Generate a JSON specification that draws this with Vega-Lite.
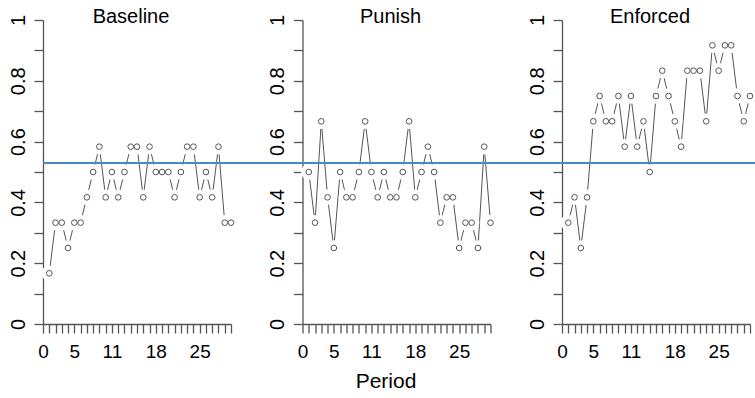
{
  "$schema": "https://vega.github.io/schema/vega-lite/v6.json",
  "background": "white",
  "padding": {"left": 7, "top": 7, "right": 0, "bottom": 0},
  "bounds": "flush",
  "spacing": 71.5,
  "config": {
    "view": {"stroke": null},
    "font": "Liberation Sans",
    "axis": {
      "grid": false,
      "domainColor": "#555555",
      "domainWidth": 1.3,
      "tickColor": "#555555",
      "tickWidth": 1.3,
      "tickSize": 9,
      "labelColor": "#000000",
      "labelFont": "Liberation Sans",
      "labelOverlap": false,
      "labelBound": false,
      "labelFlush": false
    }
  },
  "datasets": {
    "rates": [
      {"condition": "Baseline", "period": 1, "share": 0.1667},
      {"condition": "Baseline", "period": 2, "share": 0.3333},
      {"condition": "Baseline", "period": 3, "share": 0.3333},
      {"condition": "Baseline", "period": 4, "share": 0.25},
      {"condition": "Baseline", "period": 5, "share": 0.3333},
      {"condition": "Baseline", "period": 6, "share": 0.3333},
      {"condition": "Baseline", "period": 7, "share": 0.4167},
      {"condition": "Baseline", "period": 8, "share": 0.5},
      {"condition": "Baseline", "period": 9, "share": 0.5833},
      {"condition": "Baseline", "period": 10, "share": 0.4167},
      {"condition": "Baseline", "period": 11, "share": 0.5},
      {"condition": "Baseline", "period": 12, "share": 0.4167},
      {"condition": "Baseline", "period": 13, "share": 0.5},
      {"condition": "Baseline", "period": 14, "share": 0.5833},
      {"condition": "Baseline", "period": 15, "share": 0.5833},
      {"condition": "Baseline", "period": 16, "share": 0.4167},
      {"condition": "Baseline", "period": 17, "share": 0.5833},
      {"condition": "Baseline", "period": 18, "share": 0.5},
      {"condition": "Baseline", "period": 19, "share": 0.5},
      {"condition": "Baseline", "period": 20, "share": 0.5},
      {"condition": "Baseline", "period": 21, "share": 0.4167},
      {"condition": "Baseline", "period": 22, "share": 0.5},
      {"condition": "Baseline", "period": 23, "share": 0.5833},
      {"condition": "Baseline", "period": 24, "share": 0.5833},
      {"condition": "Baseline", "period": 25, "share": 0.4167},
      {"condition": "Baseline", "period": 26, "share": 0.5},
      {"condition": "Baseline", "period": 27, "share": 0.4167},
      {"condition": "Baseline", "period": 28, "share": 0.5833},
      {"condition": "Baseline", "period": 29, "share": 0.3333},
      {"condition": "Baseline", "period": 30, "share": 0.3333},
      {"condition": "Punish", "period": 1, "share": 0.5},
      {"condition": "Punish", "period": 2, "share": 0.3333},
      {"condition": "Punish", "period": 3, "share": 0.6667},
      {"condition": "Punish", "period": 4, "share": 0.4167},
      {"condition": "Punish", "period": 5, "share": 0.25},
      {"condition": "Punish", "period": 6, "share": 0.5},
      {"condition": "Punish", "period": 7, "share": 0.4167},
      {"condition": "Punish", "period": 8, "share": 0.4167},
      {"condition": "Punish", "period": 9, "share": 0.5},
      {"condition": "Punish", "period": 10, "share": 0.6667},
      {"condition": "Punish", "period": 11, "share": 0.5},
      {"condition": "Punish", "period": 12, "share": 0.4167},
      {"condition": "Punish", "period": 13, "share": 0.5},
      {"condition": "Punish", "period": 14, "share": 0.4167},
      {"condition": "Punish", "period": 15, "share": 0.4167},
      {"condition": "Punish", "period": 16, "share": 0.5},
      {"condition": "Punish", "period": 17, "share": 0.6667},
      {"condition": "Punish", "period": 18, "share": 0.4167},
      {"condition": "Punish", "period": 19, "share": 0.5},
      {"condition": "Punish", "period": 20, "share": 0.5833},
      {"condition": "Punish", "period": 21, "share": 0.5},
      {"condition": "Punish", "period": 22, "share": 0.3333},
      {"condition": "Punish", "period": 23, "share": 0.4167},
      {"condition": "Punish", "period": 24, "share": 0.4167},
      {"condition": "Punish", "period": 25, "share": 0.25},
      {"condition": "Punish", "period": 26, "share": 0.3333},
      {"condition": "Punish", "period": 27, "share": 0.3333},
      {"condition": "Punish", "period": 28, "share": 0.25},
      {"condition": "Punish", "period": 29, "share": 0.5833},
      {"condition": "Punish", "period": 30, "share": 0.3333},
      {"condition": "Enforced", "period": 1, "share": 0.3333},
      {"condition": "Enforced", "period": 2, "share": 0.4167},
      {"condition": "Enforced", "period": 3, "share": 0.25},
      {"condition": "Enforced", "period": 4, "share": 0.4167},
      {"condition": "Enforced", "period": 5, "share": 0.6667},
      {"condition": "Enforced", "period": 6, "share": 0.75},
      {"condition": "Enforced", "period": 7, "share": 0.6667},
      {"condition": "Enforced", "period": 8, "share": 0.6667},
      {"condition": "Enforced", "period": 9, "share": 0.75},
      {"condition": "Enforced", "period": 10, "share": 0.5833},
      {"condition": "Enforced", "period": 11, "share": 0.75},
      {"condition": "Enforced", "period": 12, "share": 0.5833},
      {"condition": "Enforced", "period": 13, "share": 0.6667},
      {"condition": "Enforced", "period": 14, "share": 0.5},
      {"condition": "Enforced", "period": 15, "share": 0.75},
      {"condition": "Enforced", "period": 16, "share": 0.8333},
      {"condition": "Enforced", "period": 17, "share": 0.75},
      {"condition": "Enforced", "period": 18, "share": 0.6667},
      {"condition": "Enforced", "period": 19, "share": 0.5833},
      {"condition": "Enforced", "period": 20, "share": 0.8333},
      {"condition": "Enforced", "period": 21, "share": 0.8333},
      {"condition": "Enforced", "period": 22, "share": 0.8333},
      {"condition": "Enforced", "period": 23, "share": 0.6667},
      {"condition": "Enforced", "period": 24, "share": 0.9167},
      {"condition": "Enforced", "period": 25, "share": 0.8333},
      {"condition": "Enforced", "period": 26, "share": 0.9167},
      {"condition": "Enforced", "period": 27, "share": 0.9167},
      {"condition": "Enforced", "period": 28, "share": 0.75},
      {"condition": "Enforced", "period": 29, "share": 0.6667},
      {"condition": "Enforced", "period": 30, "share": 0.75}
    ],
    "threshold": [{"level": 0.53}]
  },
  "hconcat": [
    {
      "width": 188, "height": 304,
      "title": {"text": "Baseline", "frame": "group", "offset": -13, "dx": -6, "fontSize": 20, "fontWeight": "normal", "font": "Liberation Sans"},
      "resolve": {"axis": {"x": "independent", "y": "independent"}},
      "layer": [
        {
          "data": {"name": "rates"},
          "transform": [{"filter": "datum.condition === 'Baseline'"}],
          "layer": [
            {"mark": {"type": "line", "color": "#555555", "strokeWidth": 1}},
            {"mark": {"type": "point", "shape": "circle", "filled": true, "color": "white", "opacity": 1, "size": 240}},
            {"mark": {"type": "point", "shape": "circle", "filled": false, "fill": "white", "stroke": "#555555", "strokeWidth": 1, "opacity": 1, "size": 32}}
          ],
          "encoding": {
            "x": {"field": "period", "type": "quantitative", "scale": {"domain": [0, 30], "nice": false, "zero": false},
                  "axis": {"title": null, "values": [0,1,2,3,4,5,6,7,8,9,10,11,12,13,14,15,16,17,18,19,20,21,22,23,24,25,26,27,28,29,30], "labelExpr": "indexof([0,5,11,18,25], datum.value) >= 0 ? datum.label : ''", "labelFontSize": 19, "labelPadding": 9}},
            "y": {"field": "share", "type": "quantitative", "scale": {"domain": [0, 1], "nice": false},
                  "axis": {"title": null, "values": [0,0.1,0.2,0.3,0.4,0.5,0.6,0.7,0.8,0.9,1], "format": ".1~f", "labelExpr": "indexof([0,0.2,0.4,0.6,0.8,1], datum.value) >= 0 ? datum.label : ''", "labelAngle": -90, "labelFontSize": 20, "labelPadding": 6}}
          }
        },
        {
          "data": {"name": "threshold"},
          "mark": {"type": "rule", "color": "#4a86d0", "strokeWidth": 2},
          "encoding": {
            "x": {"datum": 0, "type": "quantitative", "scale": {"domain": [0, 30]}, "axis": null},
            "x2": {"datum": 41.5},
            "y": {"field": "level", "type": "quantitative", "scale": {"domain": [0, 1]}, "axis": null}
          }
        }
      ]
    },
    {
      "width": 188, "height": 304,
      "title": {"text": "Punish", "frame": "group", "offset": -13, "dx": -6, "fontSize": 20, "fontWeight": "normal", "font": "Liberation Sans"},
      "resolve": {"axis": {"x": "independent", "y": "independent"}},
      "layer": [
        {
          "data": {"name": "rates"},
          "transform": [{"filter": "datum.condition === 'Punish'"}],
          "layer": [
            {"mark": {"type": "line", "color": "#555555", "strokeWidth": 1}},
            {"mark": {"type": "point", "shape": "circle", "filled": true, "color": "white", "opacity": 1, "size": 240}},
            {"mark": {"type": "point", "shape": "circle", "filled": false, "fill": "white", "stroke": "#555555", "strokeWidth": 1, "opacity": 1, "size": 32}}
          ],
          "encoding": {
            "x": {"field": "period", "type": "quantitative", "scale": {"domain": [0, 30], "nice": false, "zero": false},
                  "axis": {"title": "Period", "titleFontSize": 21, "titleFontWeight": "normal", "titleColor": "#000000", "titlePadding": 9, "titleFont": "Liberation Sans", "titleX": 83, "values": [0,1,2,3,4,5,6,7,8,9,10,11,12,13,14,15,16,17,18,19,20,21,22,23,24,25,26,27,28,29,30], "labelExpr": "indexof([0,5,11,18,25], datum.value) >= 0 ? datum.label : ''", "labelFontSize": 19, "labelPadding": 9}},
            "y": {"field": "share", "type": "quantitative", "scale": {"domain": [0, 1], "nice": false},
                  "axis": {"title": null, "values": [0,0.1,0.2,0.3,0.4,0.5,0.6,0.7,0.8,0.9,1], "format": ".1~f", "labelExpr": "indexof([0,0.2,0.4,0.6,0.8,1], datum.value) >= 0 ? datum.label : ''", "labelAngle": -90, "labelFontSize": 20, "labelPadding": 6}}
          }
        },
        {
          "data": {"name": "threshold"},
          "mark": {"type": "rule", "color": "#4a86d0", "strokeWidth": 2},
          "encoding": {
            "x": {"datum": -11.5, "type": "quantitative", "scale": {"domain": [0, 30]}, "axis": null},
            "x2": {"datum": 41.5},
            "y": {"field": "level", "type": "quantitative", "scale": {"domain": [0, 1]}, "axis": null}
          }
        }
      ]
    },
    {
      "width": 188, "height": 304,
      "title": {"text": "Enforced", "frame": "group", "offset": -13, "dx": -6, "fontSize": 20, "fontWeight": "normal", "font": "Liberation Sans"},
      "resolve": {"axis": {"x": "independent", "y": "independent"}},
      "layer": [
        {
          "data": {"name": "rates"},
          "transform": [{"filter": "datum.condition === 'Enforced'"}],
          "layer": [
            {"mark": {"type": "line", "color": "#555555", "strokeWidth": 1}},
            {"mark": {"type": "point", "shape": "circle", "filled": true, "color": "white", "opacity": 1, "size": 240}},
            {"mark": {"type": "point", "shape": "circle", "filled": false, "fill": "white", "stroke": "#555555", "strokeWidth": 1, "opacity": 1, "size": 32}}
          ],
          "encoding": {
            "x": {"field": "period", "type": "quantitative", "scale": {"domain": [0, 30], "nice": false, "zero": false},
                  "axis": {"title": null, "values": [0,1,2,3,4,5,6,7,8,9,10,11,12,13,14,15,16,17,18,19,20,21,22,23,24,25,26,27,28,29,30], "labelExpr": "indexof([0,5,11,18,25], datum.value) >= 0 ? datum.label : ''", "labelFontSize": 19, "labelPadding": 9}},
            "y": {"field": "share", "type": "quantitative", "scale": {"domain": [0, 1], "nice": false},
                  "axis": {"title": null, "values": [0,0.1,0.2,0.3,0.4,0.5,0.6,0.7,0.8,0.9,1], "format": ".1~f", "labelExpr": "indexof([0,0.2,0.4,0.6,0.8,1], datum.value) >= 0 ? datum.label : ''", "labelAngle": -90, "labelFontSize": 20, "labelPadding": 6}}
          }
        },
        {
          "data": {"name": "threshold"},
          "mark": {"type": "rule", "color": "#4a86d0", "strokeWidth": 2},
          "encoding": {
            "x": {"datum": -11.5, "type": "quantitative", "scale": {"domain": [0, 30]}, "axis": null},
            "x2": {"datum": 32},
            "y": {"field": "level", "type": "quantitative", "scale": {"domain": [0, 1]}, "axis": null}
          }
        }
      ]
    }
  ]
}
